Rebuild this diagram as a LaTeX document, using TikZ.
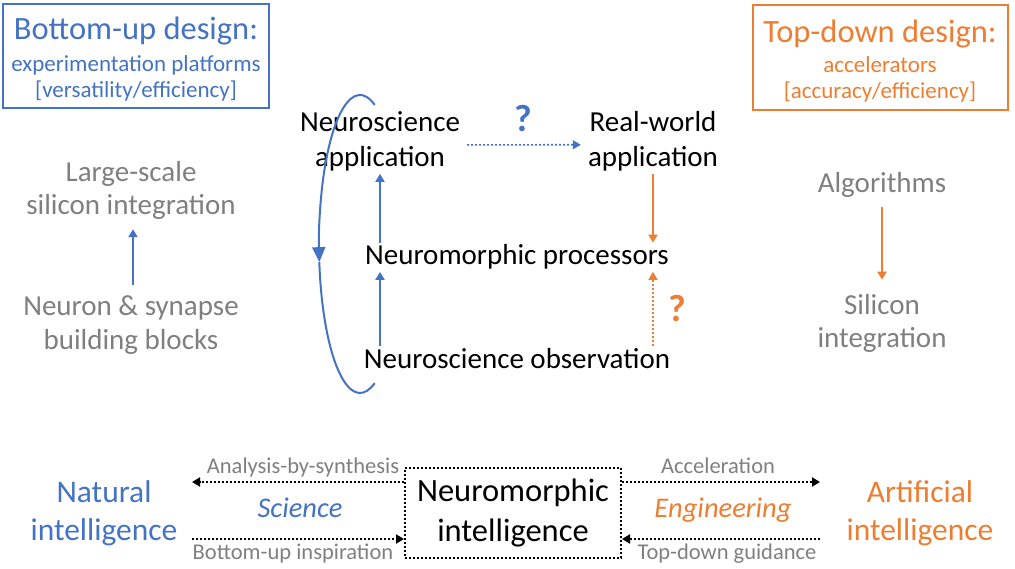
\documentclass[tikz,border=0pt]{standalone}
\usepackage{fontspec}
\setmainfont{Carlito}
\usetikzlibrary{positioning,arrows.meta}
\definecolor{officeBlue}{HTML}{4472C4}
\definecolor{officeOrange}{HTML}{ED7D31}
\definecolor{textGray}{HTML}{7F7F7F}
\tikzset{
  mainText/.style={align=center, inner sep=2pt, anchor=base, font=\fontsize{29}{35}\selectfont},
  grayText/.style={mainText, text=textGray},
  titleText/.style={anchor=base, inner sep=0pt, font=\fontsize{32.5}{38}\selectfont},
  subText/.style={align=center, anchor=base, inner sep=0pt, font=\fontsize{23}{26}\selectfont},
  endText/.style={align=center, anchor=base, inner sep=2pt, font=\fontsize{31.5}{38}\selectfont},
  fieldText/.style={anchor=base, inner sep=0pt, font=\fontsize{28.5}{32}\selectfont\itshape},
  arrowLabel/.style={anchor=base, inner sep=0pt, text=textGray, font=\fontsize{22.5}{26}\selectfont},
  questionMark/.style={anchor=base, inner sep=0pt, font=\fontsize{38}{44}\selectfont\bfseries},
  designBox/.style={draw=#1, line width=1.2pt, inner sep=0pt},
  flowArrow/.style={draw=#1, line width=2pt, -{Triangle[width=9pt,length=8pt]}},
  dottedArrow/.style={draw=#1, line width=2pt, dash pattern=on 2pt off 2pt, -{Triangle[width=9pt,length=8pt]}}
}
\begin{document}
\begin{tikzpicture}[x=1pt, y=1pt]
  \useasboundingbox (0,0) rectangle (1015,-569);

  % design boxes
  \node[designBox=officeBlue, minimum width=266pt, minimum height=104pt] (bottomUpBox) at (136,-56) {};
  \node[titleText, text=officeBlue] (bottomUpTitle) at (136,-40) {Bottom-up design:};
  \node[subText, text=officeBlue] (bottomUpSub) at (136,-98) {experimentation platforms\\{[versatility/efficiency]}};

  \node[designBox=officeOrange, minimum width=255pt, minimum height=105pt] (topDownBox) at (880.5,-57.5) {};
  \node[titleText, text=officeOrange] (topDownTitle) at (880,-43) {Top-down design:};
  \node[subText, text=officeOrange] (topDownSub) at (880,-99) {accelerators\\{[accuracy/efficiency]}};

  % side columns
  \node[grayText, font=\fontsize{29}{33}\selectfont] (largeScale) at (131,-215) {Large-scale\\silicon integration};
  \node[grayText] (neuronBlocks) at (131,-350) {Neuron \& synapse\\building blocks};
  \draw[flowArrow=officeBlue, shorten <=8pt, shorten >=7pt] (neuronBlocks.north -| 133,0) -- (largeScale.south -| 133,0);

  \node[grayText] (algorithms) at (882,-193) {Algorithms};
  \node[grayText, font=\fontsize{29}{33}\selectfont] (siliconInt) at (882,-348) {Silicon\\integration};
  \draw[flowArrow=officeOrange, shorten <=7pt, shorten >=13pt] (algorithms.south) -- (siliconInt.north);

  % central loop
  \node[mainText] (neuroApp) at (380,-167) {Neuroscience\\application};
  \node[mainText] (realWorld) at (653,-167) {Real-world\\application};
  \node[mainText] (neuroProc) at (517,-265) {Neuromorphic processors};
  \node[mainText] (neuroObs) at (517,-368) {Neuroscience observation};

  \draw[dottedArrow=officeBlue, line width=1.6pt, shorten <=5pt, shorten >=5pt] ([yshift=-3pt]neuroApp.east) -- ([yshift=-3pt]realWorld.west);
  \node[questionMark, text=officeBlue] (blueQuery) at (523,-132) {?};
  \draw[flowArrow=officeBlue] (neuroProc.north -| neuroApp) -- (neuroApp.south);
  \draw[flowArrow=officeBlue] (neuroObs.north -| neuroApp) -- (neuroProc.south -| neuroApp);
  \draw[flowArrow=officeOrange] (realWorld.south) -- (neuroProc.north -| realWorld);
  \draw[dottedArrow=officeOrange, line width=1.6pt] (neuroObs.north -| realWorld) -- (neuroProc.south -| realWorld);
  \node[questionMark, text=officeOrange] (orangeQuery) at (677,-322) {?};

  \draw[draw=officeBlue, line width=2pt, -{Triangle[width=13pt,length=15pt]}] (360,-244) ++(69:41 and 149)
    arc[start angle=69, end angle=187, x radius=41, y radius=149] coordinate (loopMid);
  \draw[draw=officeBlue, line width=2pt] (loopMid) arc[start angle=187, end angle=291, x radius=41, y radius=149];

  % intelligence row
  \node[designBox=black, dash pattern=on 2pt off 2pt, line width=2pt, minimum width=216pt, minimum height=90pt,
    align=center, font=\fontsize{32.5}{40}\selectfont] (neuroIntel) at (513,-513) {Neuromorphic\\intelligence};
  \node[endText, text=officeBlue] (natural) at (104,-540) {Natural\\intelligence};
  \node[endText, text=officeOrange] (artificial) at (920,-540) {Artificial\\intelligence};

  \coordinate (scienceTop) at (192,-482);
  \coordinate (scienceBottom) at (192,-539);
  \coordinate (engTop) at (820,-482);
  \coordinate (engBottom) at (820,-539);
  \draw[dottedArrow=black] (neuroIntel.west |- scienceTop) -- (scienceTop);
  \draw[dottedArrow=black] (scienceBottom) -- (neuroIntel.west |- scienceBottom);
  \draw[dottedArrow=black] (neuroIntel.east |- engTop) -- (engTop);
  \draw[dottedArrow=black] (engBottom) -- (neuroIntel.east |- engBottom);

  \node[arrowLabel] (analysisLabel) at (303,-473) {Analysis-by-synthesis};
  \node[arrowLabel] (inspirationLabel) at (293,-559) {Bottom-up inspiration};
  \node[arrowLabel] (accelLabel) at (718,-473) {Acceleration};
  \node[arrowLabel] (guidanceLabel) at (727,-559) {Top-down guidance};
  \node[fieldText, text=officeBlue] (scienceLabel) at (300,-517) {Science};
  \node[fieldText, text=officeOrange] (engLabel) at (723,-517) {Engineering};
\end{tikzpicture}
\end{document}
